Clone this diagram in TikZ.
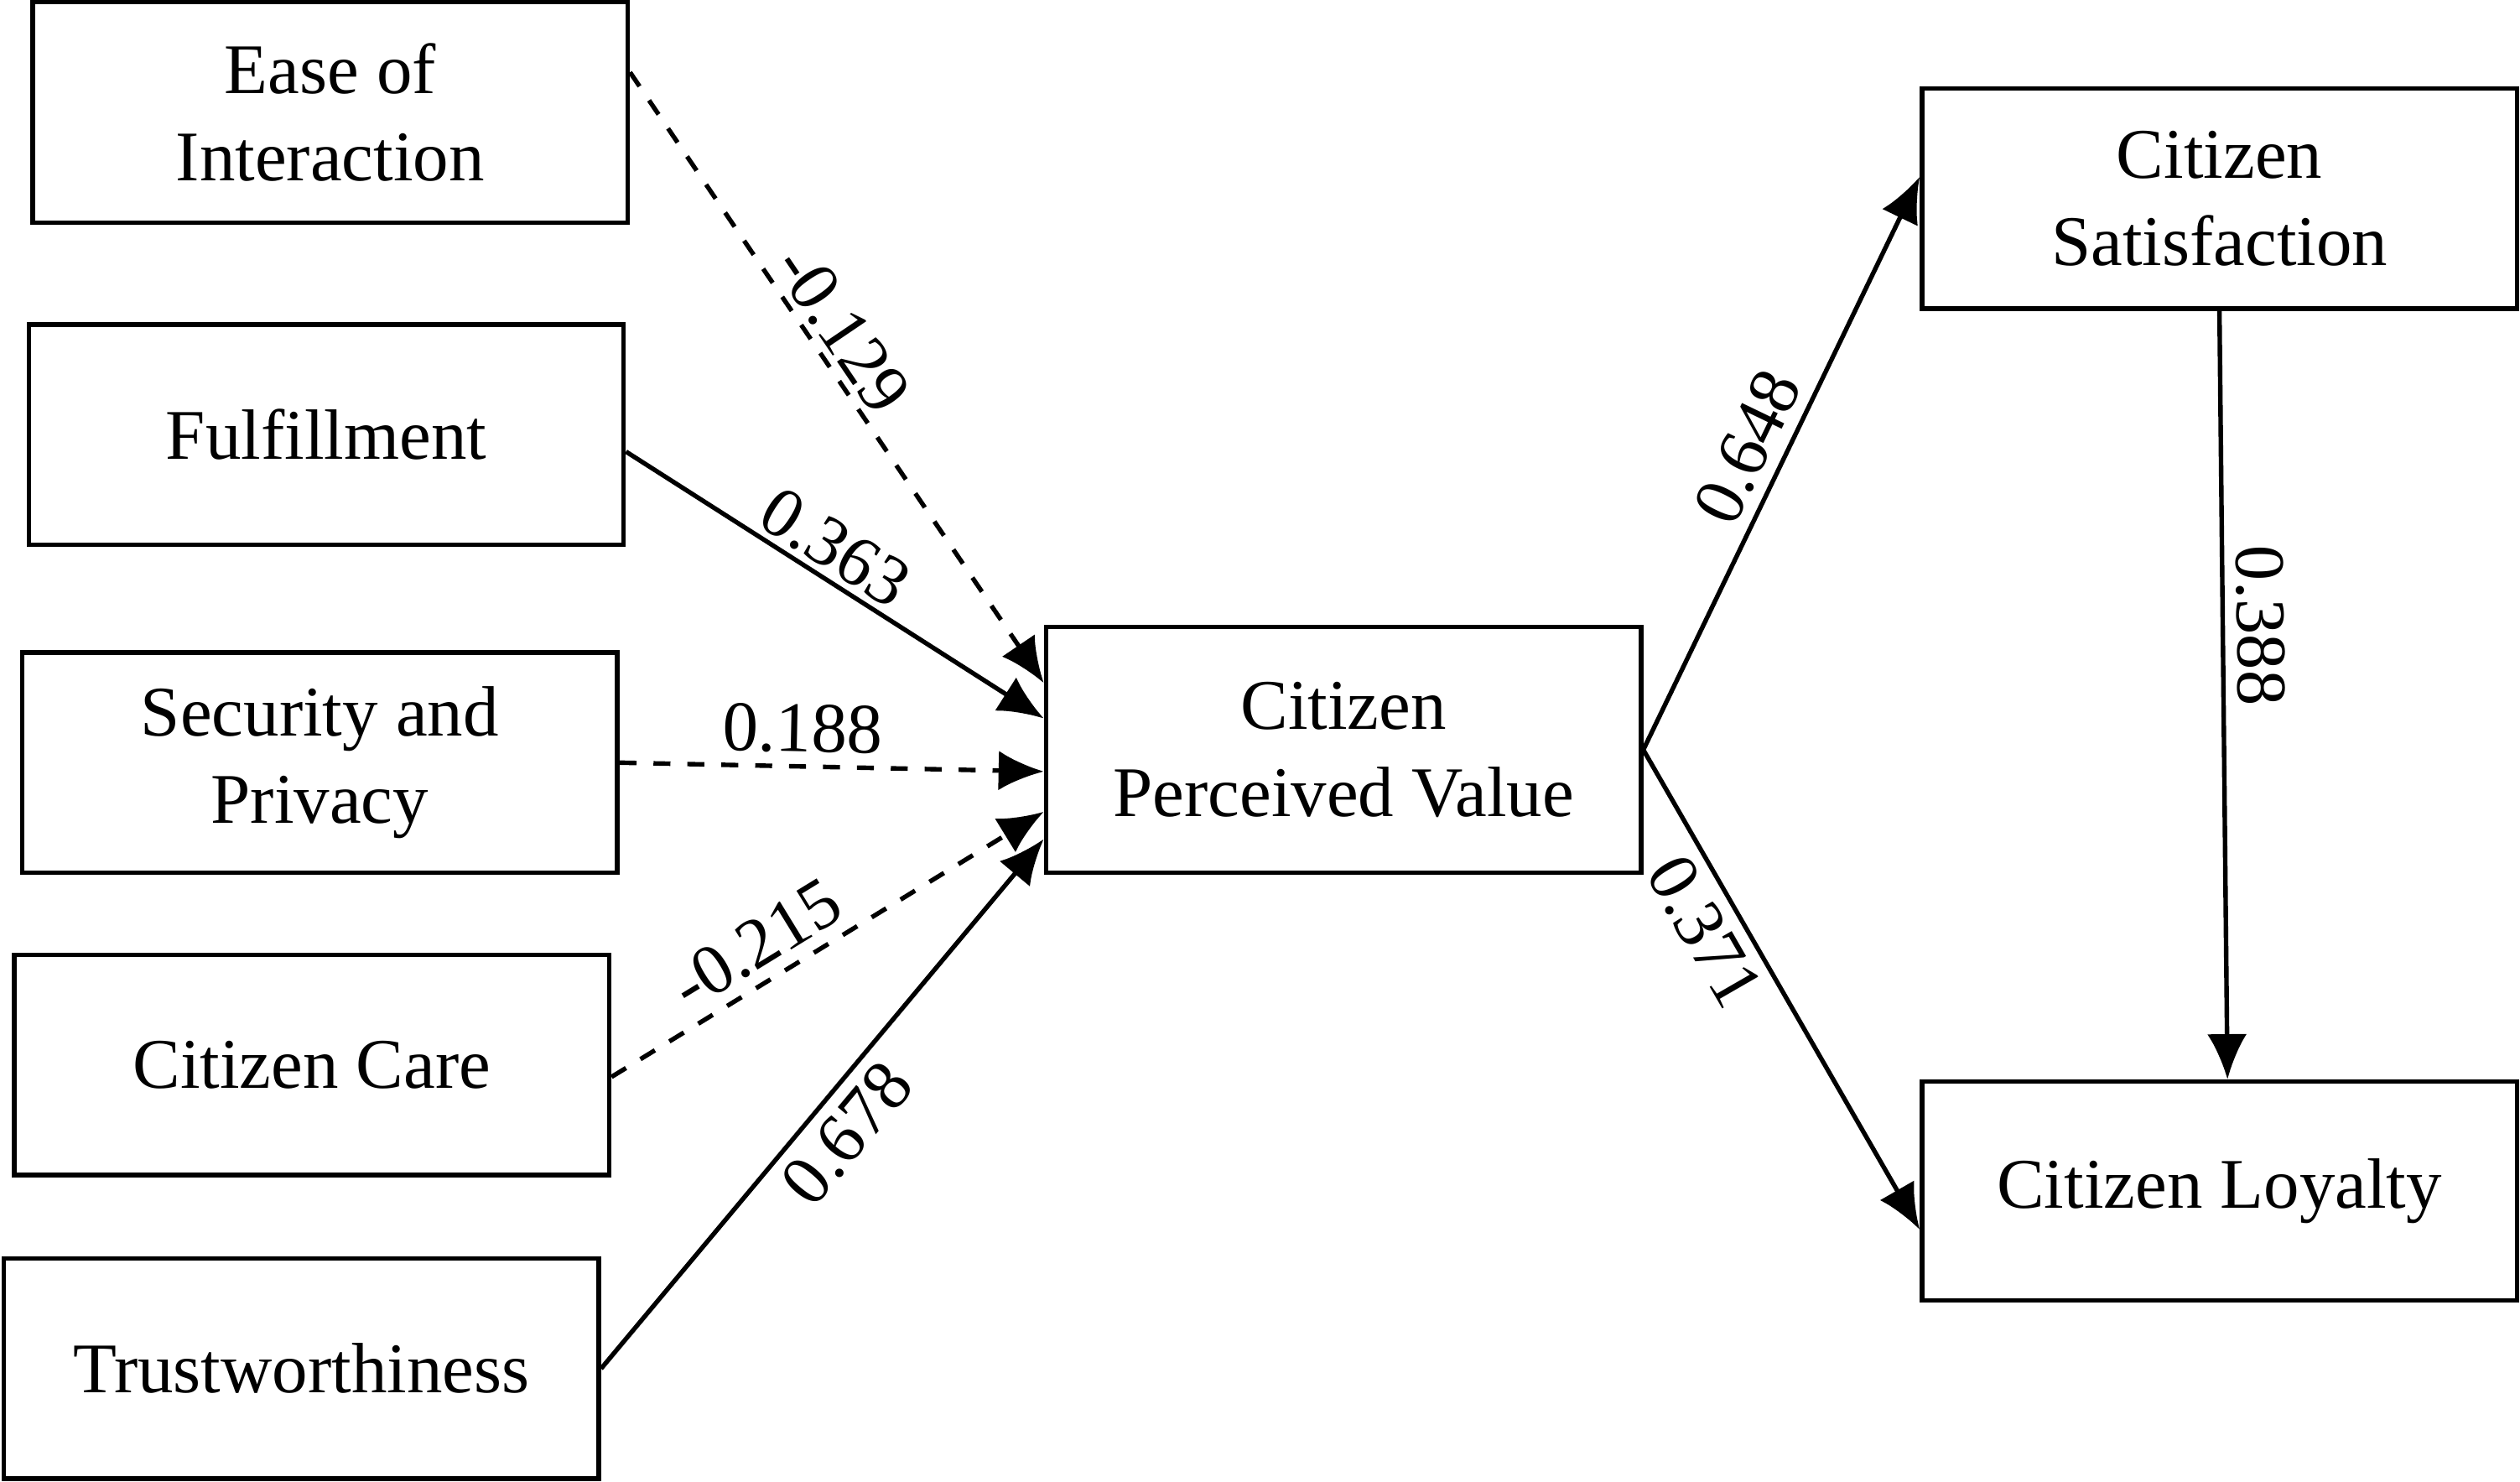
\documentclass[tikz,border=0pt]{standalone}
\usepackage{fontspec}
\setmainfont{Liberation Serif}
\usetikzlibrary{arrows.meta}
\begin{document}
\begin{tikzpicture}[x=0.01cm,y=0.01cm,
  box/.style={draw,line width=0.8pt,minimum width=3.7cm,minimum height=1.37cm,align=center,font=\fontsize{12.6}{15.5}\selectfont,inner sep=0pt},
  arr/.style={line width=0.8pt,-{Latex[length=8pt,width=7pt]}},
  lab/.style={font=\fontsize{12.6}{15}\selectfont,sloped,inner sep=2pt}]
\useasboundingbox (0,0) rectangle (1568,922);
\node[box] (ease) at (205.5,852) {Ease of\\Interaction};
\node[box] (fulf) at (203,651.5) {Fulfillment};
\node[box] (sec) at (199,447.5) {Security and\\Privacy};
\node[box] (care) at (194,259.5) {Citizen Care};
\node[box] (trust) at (187.5,70.5) {Trustworthiness};
\node[box,minimum height=1.53cm] (cpv) at (836,455.5) {Citizen\\Perceived Value};
\node[box] (sat) at (1381,798.5) {Citizen\\Satisfaction};
\node[box,minimum height=1.36cm] (loy) at (1381,181) {Citizen Loyalty};
\draw[arr,dashed] ([yshift=0.25cm]ease.east) -- node[lab,pos=0.45,above,inner sep=1pt]{-0.129} ([yshift=0.415cm]cpv.west);
\draw[arr] ([yshift=-0.105cm]fulf.east) -- node[lab,pos=0.46,above,inner sep=1pt]{0.363} ([yshift=0.195cm]cpv.west);
\draw[arr,dashed] (sec.east) -- node[lab,pos=0.43,above]{0.188} ([yshift=-0.135cm]cpv.west);
\draw[arr,dashed] ([yshift=-0.075cm]care.east) -- node[lab,pos=0.38,above]{-0.215} ([yshift=-0.385cm]cpv.west);
\draw[arr] (trust.east) -- node[lab,pos=0.49,below]{0.678} ([yshift=-0.555cm]cpv.west);
\draw[arr] (cpv.east) -- node[lab,pos=0.5,above]{0.648} ([yshift=0.135cm]sat.west);
\draw[arr] (cpv.east) -- node[lab,pos=0.34,below]{0.371} ([yshift=-0.24cm]loy.west);
\draw[arr] (sat.south) -- node[lab,pos=0.41,above]{0.388} ([xshift=0.05cm]loy.north);
\end{tikzpicture}
\end{document}
